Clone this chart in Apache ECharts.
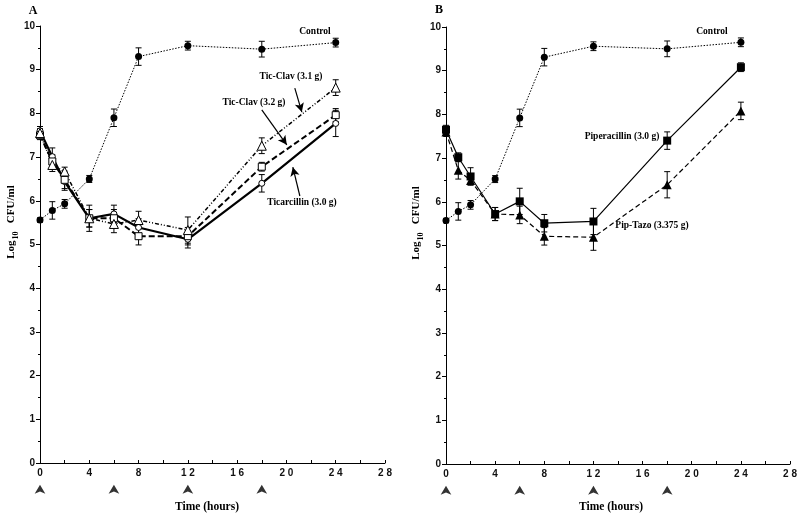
<!DOCTYPE html>
<html><head><meta charset="utf-8">
<script src="https://cdn.jsdelivr.net/npm/echarts@6/dist/echarts.min.js"></script>
<style>html,body{margin:0;padding:0;background:#fff}#c{width:800px;height:518px}</style>
</head><body><div id="c"></div>
<script>
// ---- data ----
const times = [0, 1, 2, 4, 6, 8, 12, 18, 24];
const doseTimes = [0, 6, 12, 18];

const aControl = [5.56, 5.78, 5.93, 6.50, 7.90, 9.30, 9.55, 9.47, 9.62];
const aControlErr = [0.05, 0.2, 0.1, 0.08, 0.2, 0.2, 0.1, 0.18, 0.1];
const aTicClav31 = [7.55, 6.82, 6.67, 5.60, 5.47, 5.56, 5.33, 7.26, 8.59];
const aTicClav31Err = [0.1, 0.15, 0.1, 0.2, 0.2, 0.2, 0.3, 0.18, 0.18];
const aTicClav32 = [7.50, 6.90, 6.48, 5.60, 5.60, 5.19, 5.19, 6.78, 7.96];
const aTicClav32Err = [0.1, 0.15, 0.2, 0.2, 0.2, 0.2, 0.2, 0.1, 0.15];
const aTicarcillin = [7.60, 7.01, 6.44, 5.60, 5.70, 5.39, 5.12, 6.40, 7.77];
const aTicarcillinErr = [0.1, 0.2, 0.2, 0.3, 0.2, 0.2, 0.2, 0.2, 0.3];

const bControl = [5.57, 5.78, 5.93, 6.52, 7.92, 9.31, 9.56, 9.50, 9.65];
const bControlErr = [0.05, 0.2, 0.1, 0.08, 0.2, 0.2, 0.1, 0.18, 0.1];
const bPiperacillin = [7.65, 7.02, 6.58, 5.72, 6.01, 5.51, 5.55, 7.40, 9.08];
const bPiperacillinErr = [0.1, 0.1, 0.2, 0.15, 0.3, 0.2, 0.3, 0.2, 0.1];
const bPipTazo = [7.60, 6.72, 6.49, 5.72, 5.70, 5.21, 5.19, 6.39, 8.08];
const bPipTazoErr = [0.1, 0.2, 0.1, 0.15, 0.2, 0.2, 0.3, 0.3, 0.2];

const yTicks = {min: 0, max: 10, interval: 1};
const xTicks = {min: 0, max: 28, interval: 4};

// ---- helpers ----
const pairs = (v) => times.map((t, i) => [t, v[i]]);
const errData = (v, e) => times.map((t, i) => [t, v[i] - e[i], v[i] + e[i]]);
function errRender(params, api) {
  const x = api.value(0);
  const p1 = api.coord([x, api.value(1)]);
  const p2 = api.coord([x, api.value(2)]);
  const w = 3;
  const st = {stroke: '#000', lineWidth: 1};
  return {type: 'group', children: [
    {type: 'line', shape: {x1: p1[0], y1: p1[1], x2: p2[0], y2: p2[1]}, style: st},
    {type: 'line', shape: {x1: p1[0] - w, y1: p1[1], x2: p1[0] + w, y2: p1[1]}, style: st},
    {type: 'line', shape: {x1: p2[0] - w, y1: p2[1], x2: p2[0] + w, y2: p2[1]}, style: st}
  ]};
}
function errSeries(idx, v, e) {
  return {type: 'custom', xAxisIndex: idx, yAxisIndex: idx, renderItem: errRender,
    data: errData(v, e), encode: {x: 0, y: [1, 2]}, z: 1, silent: true, clip: false};
}
function lineSeries(idx, v, opt) {
  return Object.assign({type: 'line', xAxisIndex: idx, yAxisIndex: idx, data: pairs(v),
    showAllSymbol: true, silent: true, z: 3, animation: false}, opt);
}
const tickFont = {fontFamily: 'Liberation Sans, Arial, sans-serif', fontWeight: 'bold', fontSize: 10, color: '#111'};
function xAxis(idx) {
  return {type: 'value', gridIndex: idx, min: xTicks.min, max: xTicks.max, interval: xTicks.interval,
    axisLine: {show: true, lineStyle: {color: '#000', width: 1}},
    axisTick: {show: true, inside: true, length: 3, lineStyle: {color: '#000'}},
    minorTick: {show: true, splitNumber: 2, length: 3, lineStyle: {color: '#000'}},
    splitLine: {show: false},
    axisLabel: Object.assign({margin: 5, formatter: (v) => String(v).split('').join(' ')}, tickFont)};
}
function yAxis(idx) {
  return {type: 'value', gridIndex: idx, min: yTicks.min, max: yTicks.max, interval: yTicks.interval,
    axisLine: {show: true, lineStyle: {color: '#000', width: 1}},
    axisTick: {show: true, length: 4, lineStyle: {color: '#000'}},
    minorTick: {show: true, splitNumber: 2, length: 2, lineStyle: {color: '#000'}},
    splitLine: {show: false},
    axisLabel: Object.assign({margin: 5}, tickFont)};
}
function doseSeries(idx) {
  return {type: 'scatter', xAxisIndex: idx, yAxisIndex: idx, data: doseTimes.map(t => [t, -0.5]),
    symbol: 'arrow', symbolSize: [8, 9], itemStyle: {color: '#000'}, clip: false, silent: true, z: 5};
}
const serif = 'Liberation Serif, Times New Roman, serif';
function txt(x, y, text, size) {
  return {type: 'text', x: x, y: y, style: {text: text, fill: '#000', font: 'bold ' + (size || 10) + 'px ' + serif,
    align: 'center', verticalAlign: 'middle'}};
}
function yTitle(x, y) {
  return {type: 'text', x: x, y: y, rotation: Math.PI / 2,
    style: {text: '{a|Log}{s|10}{a|   CFU/ml}', align: 'center', verticalAlign: 'middle',
      rich: {a: {fontFamily: serif, fontWeight: 'bold', fontSize: 11, fill: '#000', verticalAlign: 'top', lineHeight: 14},
             s: {fontFamily: serif, fontWeight: 'bold', fontSize: 8, fill: '#000', verticalAlign: 'bottom', padding: [8, 0, 0, 1], lineHeight: 14}}}};
}
const arrowLine = {symbol: ['none', 'arrow'], symbolSize: [7, 9], silent: true, animation: false,
  lineStyle: {color: '#000', width: 1.2, type: 'solid'}, label: {show: false}};

const option = {
  animation: false,
  backgroundColor: '#fff',
  grid: [
    {left: 40, right: 415, top: 26, bottom: 55},
    {left: 446, right: 9, top: 27, bottom: 54}
  ],
  xAxis: [xAxis(0), xAxis(1)],
  yAxis: [yAxis(0), yAxis(1)],
  graphic: [
    txt(33, 11, 'A', 12), txt(439, 10, 'B', 12),
    txt(315, 32, 'Control', 9.5), txt(291, 77, 'Tic-Clav (3.1 g)', 9.5), txt(254, 103, 'Tic-Clav (3.2 g)', 9.5),
    txt(302, 203, 'Ticarcillin (3.0 g)', 9.5),
    txt(712, 32, 'Control', 9.5), txt(622, 137, 'Piperacillin (3.0 g)', 9.5), txt(652, 226, 'Pip-Tazo (3.375 g)', 9.5),
    txt(207, 507, 'Time (hours)', 11.5), txt(611, 507, 'Time (hours)', 11.5),
    yTitle(13, 222), yTitle(418, 223)
  ],
  series: [
    errSeries(0, aControl, aControlErr),
    errSeries(0, aTicClav31, aTicClav31Err),
    errSeries(0, aTicClav32, aTicClav32Err),
    errSeries(0, aTicarcillin, aTicarcillinErr),
    lineSeries(0, aControl, {symbol: 'circle', symbolSize: 7, itemStyle: {color: '#000'},
      lineStyle: {color: '#000', width: 1, type: [1.5, 1.5]}}),
    lineSeries(0, aTicarcillin, {symbol: 'circle', symbolSize: 6, itemStyle: {color: '#fff', borderColor: '#000', borderWidth: 1},
      lineStyle: {color: '#000', width: 2.2, type: 'solid'},
      markLine: Object.assign({data: [[{coord: [21.09, 6.11]}, {coord: [20.52, 6.77]}]]}, arrowLine)}),
    lineSeries(0, aTicClav32, {symbol: 'rect', symbolSize: 7, itemStyle: {color: '#fff', borderColor: '#000', borderWidth: 1},
      lineStyle: {color: '#000', width: 2, type: [6, 3]},
      markLine: Object.assign({data: [[{coord: [18.0, 8.08]}, {coord: [20.03, 7.28]}]]}, arrowLine)}),
    lineSeries(0, aTicClav31, {symbol: 'triangle', symbolSize: 9, itemStyle: {color: '#fff', borderColor: '#000', borderWidth: 1},
      lineStyle: {color: '#000', width: 1.5, type: [4, 2, 1, 2, 1, 2]},
      markLine: Object.assign({data: [[{coord: [20.68, 8.58]}, {coord: [21.25, 8.03]}]]}, arrowLine)}),
    doseSeries(0),

    errSeries(1, bControl, bControlErr),
    errSeries(1, bPiperacillin, bPiperacillinErr),
    errSeries(1, bPipTazo, bPipTazoErr),
    lineSeries(1, bControl, {symbol: 'circle', symbolSize: 7, itemStyle: {color: '#000'},
      lineStyle: {color: '#000', width: 1, type: [1.5, 1.5]}}),
    lineSeries(1, bPiperacillin, {symbol: 'rect', symbolSize: 8, itemStyle: {color: '#000'},
      lineStyle: {color: '#000', width: 1.2, type: 'solid'}}),
    lineSeries(1, bPipTazo, {symbol: 'triangle', symbolSize: 9, itemStyle: {color: '#000'},
      lineStyle: {color: '#000', width: 1.2, type: [5, 3]}}),
    doseSeries(1)
  ]
};
const chart = echarts.init(document.getElementById('c'), null, {renderer: 'canvas'});
chart.setOption(option);
</script></body></html>
